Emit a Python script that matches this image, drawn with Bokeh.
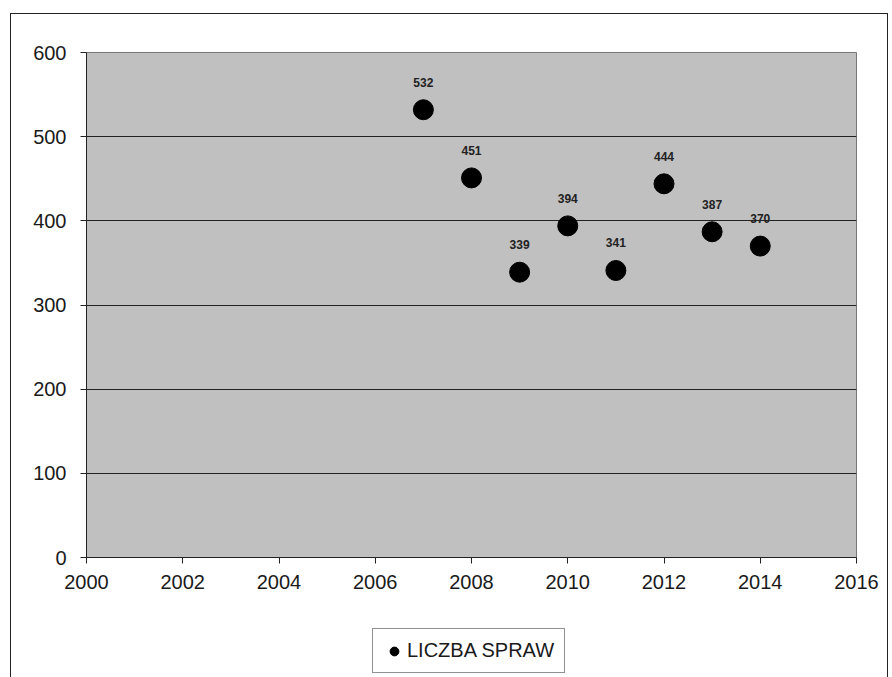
from bokeh.plotting import figure
from bokeh.layouts import column
from bokeh.models import ColumnDataSource, FixedTicker, Legend, LegendItem
from bokeh.core.properties import value
from bokeh.embed import file_html
from bokeh.resources import INLINE

years = [2007, 2008, 2009, 2010, 2011, 2012, 2013, 2014]
cases = [532, 451, 339, 394, 341, 444, 387, 370]
labels = [str(v) for v in cases]
x_ticks = [2000, 2002, 2004, 2006, 2008, 2010, 2012, 2014, 2016]
y_ticks = [0, 100, 200, 300, 400, 500, 600]
series_name = "LICZBA SPRAW"

src = ColumnDataSource(dict(x=years, y=cases, label=labels))

p = figure(width=876, height=590, output_backend="svg", toolbar_location=None,
           x_range=(2000, 2016), y_range=(0, 600),
           min_border_left=75, min_border_right=31, min_border_top=38, min_border_bottom=47)
p.background_fill_color = "#c0c0c0"
p.border_fill_color = "white"
p.outline_line_color = "#777777"

p.xaxis.ticker = FixedTicker(ticks=x_ticks)
p.yaxis.ticker = FixedTicker(ticks=y_ticks)
for ax in (p.xaxis[0], p.yaxis[0]):
    ax.axis_line_color = "#222222"
    ax.major_tick_line_color = "#222222"
    ax.major_tick_out = 6
    ax.major_tick_in = 0
    ax.minor_tick_line_color = None
    ax.major_label_text_font = "Liberation Sans"
    ax.major_label_text_font_size = "20px"
    ax.major_label_text_color = "#1a1a1a"
p.xaxis.major_label_standoff = 11
p.yaxis.major_label_standoff = 14

p.xgrid.grid_line_color = None
p.ygrid.grid_line_color = "#222222"
p.ygrid.grid_line_width = 1

r = p.scatter("x", "y", source=src, size=20, color="black", marker="circle")
p.text("x", "y", text="label", source=src, text_font=value("Liberation Sans"),
       text_font_style="bold", text_font_size="12px", text_color="#222222",
       text_align="center", text_baseline="bottom", y_offset=-23)

# legend strip below the chart
lf = figure(width=876, height=74, output_backend="svg", toolbar_location=None,
            x_range=(0, 1), y_range=(0, 1),
            min_border_left=0, min_border_right=0, min_border_top=0, min_border_bottom=0)
lf.axis.visible = False
lf.grid.visible = False
lf.outline_line_color = None
lf.background_fill_color = "white"
lr = lf.scatter(x=[-10], y=[-10], size=15, color="black", marker="circle")
legend = Legend(items=[LegendItem(label=series_name, renderers=[lr])],
                location=(286, 5), orientation="horizontal",
                label_text_font="Liberation Sans", label_text_font_size="20px",
                label_text_color="#1a1a1a", glyph_width=22, glyph_height=22,
                label_standoff=2, padding=10, margin=0,
                border_line_color="#222222", border_line_width=1,
                background_fill_color="white", background_fill_alpha=1)
lf.add_layout(legend, "center")

layout = column(p, lf, spacing=0)
layout.styles = {"border": "1px solid #222", "margin-left": "10px", "margin-top": "13px"}

open("out.html", "w").write(file_html(layout, INLINE))
